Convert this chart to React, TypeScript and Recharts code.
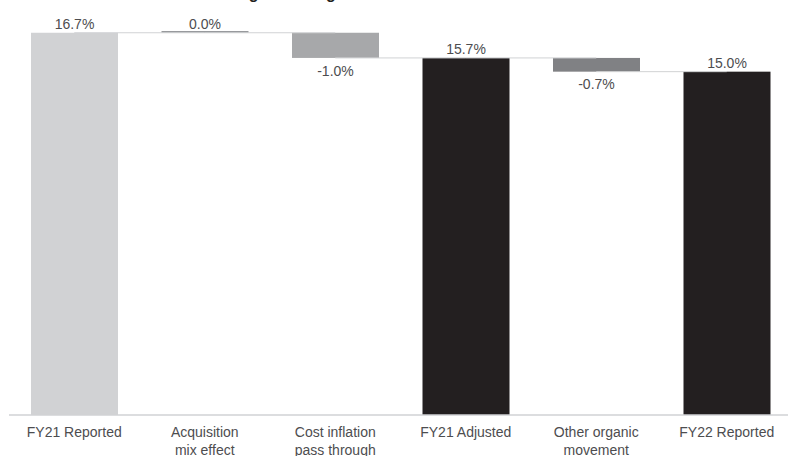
import React from 'react';
import { BarChart, Bar, XAxis, YAxis, ReferenceLine, LabelList } from 'recharts';

// waterfall steps
const categories = ['FY21 Reported', 'Acquisition mix effect', 'Cost inflation pass through', 'FY21 Adjusted', 'Other organic movement', 'FY22 Reported'];
const tickLines = [['FY21 Reported'], ['Acquisition', 'mix effect'], ['Cost inflation', 'pass through'], ['FY21 Adjusted'], ['Other organic', 'movement'], ['FY22 Reported']];
const values = [16.7, 0.0, -1.1, 15.6, -0.6, 15.0];
const kinds = ['total', 'delta', 'delta', 'total', 'delta', 'total'];
const valueLabels = ['16.7%', '0.0%', '-1.0%', '15.7%', '-0.7%', '15.0%'];
const barColors = ['#d1d2d4', '#939598', '#a7a8aa', '#231f20', '#808184', '#231f20'];

let running = 0;
const data = categories.map((name, i) => {
    let low: number, high: number;
    if (kinds[i] === 'total') {
        low = 0;
        high = values[i];
        running = values[i];
    } else {
        const next = running + values[i];
        low = Math.min(running, next);
        high = Math.max(running, next);
        running = next;
    }
    return { name, range: [low, high], level: running, neg: values[i] < 0 };
});

const WaterfallBar = (props: any) => {
    const { x, y, width, height, index } = props;
    const h = Math.abs(height);
    const top = height < 0 ? y + height : y;
    if (h < 1) {
        return <rect x={x} y={top - 1.7} width={width} height={1.7} fill={barColors[index]} />;
    }
    return <rect x={x} y={top} width={width} height={h} fill={barColors[index]} />;
};

const ValueLabel = (props: any) => {
    const { x, y, width, height, index } = props;
    const top = height < 0 ? y + height : y;
    const bottom = top + Math.abs(height);
    const below = data[index].neg;
    const ty = below ? bottom + 17.7 : (Math.abs(height) < 1 ? top - 3.4 : top - 3.7);
    return (
        <text x={x + width / 2} y={ty} textAnchor="middle" fontSize={14} fill="#4d4d4f">
            {valueLabels[index]}
        </text>
    );
};

const CategoryTick = (props: any) => {
    const { x, y, index } = props;
    const lines = tickLines[index] || [];
    return (
        <g>
            {lines.map((line, k) => (
                <text key={k} x={x} y={y + 13.5 + k * 18.3} textAnchor="middle" fontSize={14} fill="#4d4d4f">
                    {line}
                </text>
            ))}
        </g>
    );
};

export default function App() {
    return (
        <div style={{ position: 'absolute', left: 0, top: 0, width: 788, height: 456, overflow: 'hidden', background: '#fff', fontFamily: '"Liberation Sans", Arial, sans-serif' }}>
            <svg width={788} height={20} style={{ position: 'absolute', left: 0, top: 0 }}>
                <text x={206} y={-0.6} fontSize={16} fontWeight="bold" fill="#231f20">FY22 gross margin</text>
            </svg>
            <BarChart width={793} height={456} data={data} margin={{ top: 3, right: 1, left: 9, bottom: 0 }}>
                <XAxis
                    dataKey="name"
                    axisLine={{ stroke: '#d1d2d4', strokeWidth: 1.5 }}
                    tickLine={false}
                    interval={0}
                    height={41}
                    tick={<CategoryTick />}
                />
                <YAxis hide domain={[0, 18]} />
                {data.slice(0, -1).map((d, i) => (
                    <ReferenceLine
                        key={i}
                        segment={[{ x: d.name, y: d.level }, { x: data[i + 1].name, y: d.level }]}
                        stroke="#d1d2d4"
                        strokeWidth={1}
                    />
                ))}
                <Bar dataKey="range" barSize={87} shape={<WaterfallBar />} isAnimationActive={false}>
                    <LabelList dataKey="range" content={<ValueLabel />} />
                </Bar>
            </BarChart>
        </div>
    );
}
